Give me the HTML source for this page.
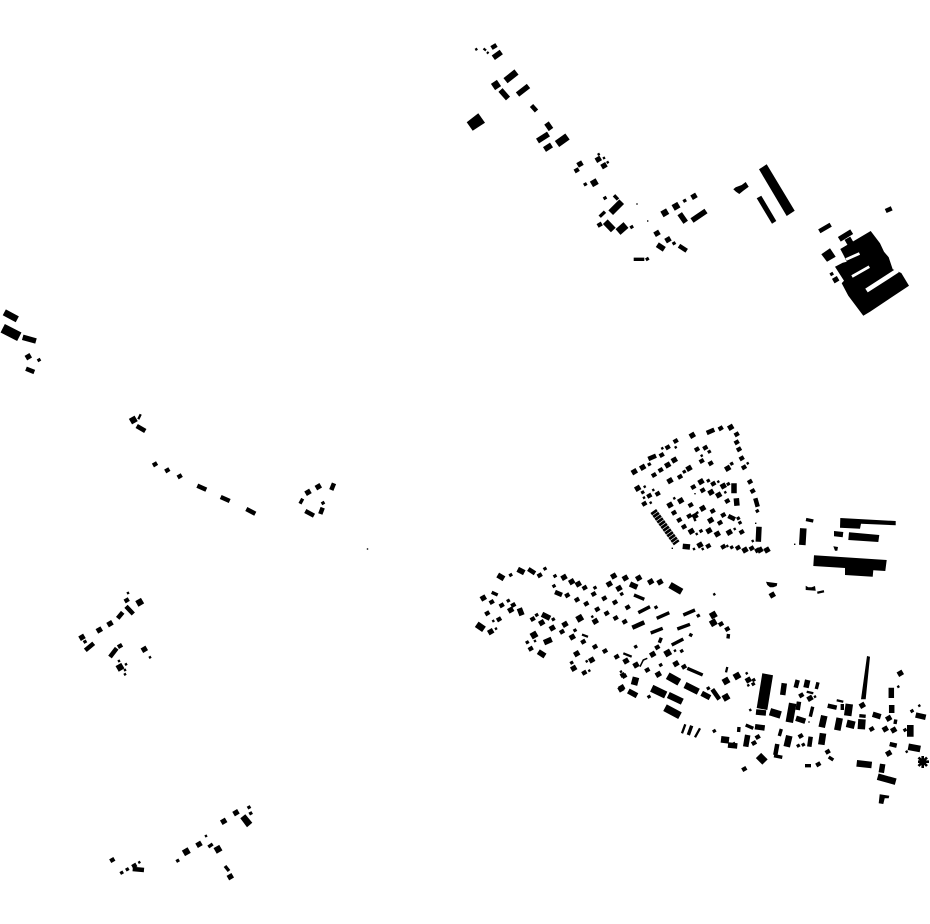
<!DOCTYPE html>
<html><head><meta charset="utf-8"><title>Figure-ground map</title>
<style>html,body{margin:0;padding:0;background:#fff}svg{display:block}</style></head>
<body>
<svg xmlns="http://www.w3.org/2000/svg" width="930" height="924" viewBox="0 0 930 924">
<defs>
<marker id="s1" markerUnits="userSpaceOnUse" markerWidth="4" markerHeight="4" refX="2" refY="2" overflow="visible"><rect x="1.3" y="1.3" width="1.4" height="1.4"/></marker>
<marker id="s2" markerUnits="userSpaceOnUse" markerWidth="6" markerHeight="6" refX="3" refY="3" overflow="visible"><rect x="1.8" y="1.8" width="2.4" height="2.4" transform="rotate(-30 3 3)"/></marker>
<marker id="s3" markerUnits="userSpaceOnUse" markerWidth="8" markerHeight="8" refX="4" refY="4" overflow="visible"><rect x="2.3" y="2.4" width="3.4" height="3.2" transform="rotate(-30 4 4)"/></marker>
<marker id="s4" markerUnits="userSpaceOnUse" markerWidth="10" markerHeight="10" refX="5" refY="5" overflow="visible"><rect x="2.6" y="2.9" width="4.8" height="4.2" transform="rotate(-30 5 5)"/></marker>
<marker id="s5" markerUnits="userSpaceOnUse" markerWidth="12" markerHeight="12" refX="6" refY="6" overflow="visible"><rect x="3.2" y="3.4" width="5.6" height="5.2" transform="rotate(-30 6 6)"/></marker>
<marker id="s6" markerUnits="userSpaceOnUse" markerWidth="14" markerHeight="14" refX="7" refY="7" overflow="visible"><rect x="3.7" y="3.8" width="6.6" height="6.4" transform="rotate(-30 7 7)"/></marker>
</defs>
<rect width="930" height="924" fill="#fff"/>

<g fill="none" stroke="none">
<path marker-start="url(#s1)" marker-mid="url(#s1)" marker-end="url(#s1)" d="M637 204 647.7 221 672.3 548.3 695 493.7 755.7 523.3 794.7 544.3 809 722 367.5 549"/>
<path marker-start="url(#s2)" marker-mid="url(#s2)" marker-end="url(#s2)" d="M476.3 49.3 598.7 154.3 604 158 607.7 162.3 675.7 447.3 662.3 448.3 747.7 463.3 701.7 455.7 644.7 486.7 653.3 490 644 497.7 650.7 502.7 718.3 481.7 725.3 492.3 674.3 498.3 696.7 534 697.3 512.7 695 520 734.7 529 694 549 702.7 549 727.3 546 752.7 541 493.3 621 496 628.7 592.3 616.7 535 641 586.7 661.3 589.3 670.7 714.3 594.3 675 650.7 621 671.7 746.7 673.3 752.7 684 748.3 685.3 750.3 710 815 696.7 898.3 686.7 919.3 705.7 906.7 751.7 128 593 150 657.3 119 661 126 664.3 125 670 125 674.3 206 836 139.3 862.3 734 743.3"/>
<path marker-start="url(#s3)" marker-mid="url(#s3)" marker-end="url(#s3)" d="M585.3 184.3 605 198 631.7 227 647.3 259 674 243.3 684.7 200.7 831.7 274 649.3 464.3 731.7 463.7 709.3 451.7 642.7 492.3 708.3 480.7 728.3 484 731.7 547.3 757.3 511 738.3 518.3 740 522.7 701 531 684.3 471.7 510.7 575 545 568.7 555 576 595 587.7 554 586 621.7 594 508.3 600.7 536.7 615 553.3 619.3 575 630.3 656 607.3 698.3 615.7 635.7 646.7 681.7 651 660.7 665 527.3 642.3 571.7 662.7 649 696.7 708.3 688.3 714.3 731 753.3 684 753.7 680 905 730 912 711 85 641.7 177.7 860.7 121.7 872.7 127.3 869.3 39 360 323 503 249 807.3 250.7 813.3 798.3 745.7 803.3 744.7"/>
<path marker-start="url(#s4)" marker-mid="url(#s4)" marker-end="url(#s4)" d="M599.7 224.7 576.7 170.3 661.7 455 667.7 447.3 675.7 441 720.7 428.3 736.7 434.3 736.7 442.3 739 449.3 741.7 458.3 744 467.3 697 449.3 705.3 447.7 701.7 461 710.7 463.3 654 475 660.7 470 680 476.7 649.3 495.7 657.7 493.7 644.3 503.7 693.3 487 713.3 483.7 702.7 490.3 727.3 501 750 481.7 752.7 491 690.7 505 712.7 511 723.3 515 674 512.7 679.3 520 684 526.7 689.3 516 720 522.7 741.7 532 708.3 546 723.3 546.7 738 547.7 751.7 548.3 757.3 550.3 539.7 575.3 584.7 587.7 593.7 594 567.3 595.3 577 599.7 586.3 603.7 604.3 598.3 615 602.3 597.3 609.3 606.7 613.3 615.7 618 624.7 621.7 627.7 607.3 491.7 602 501.7 605.3 513.3 605 487.3 613.3 499 619.3 532.7 619 562 631.7 583.3 641.7 595 646.7 605 651 616.7 656.7 530.7 648.7 584.3 672.7 622.7 675 721 624 727.3 629 657.3 647.3 684 666.7 647.3 670 624.3 676 871.7 729 801.3 695.3 757.7 737 754 743 800.7 736 744.3 769 818.3 764.3 827.7 751.7 126.7 600.3 120 646 155 464.3 167.3 470.3 179.7 476.3 112.3 860 134.3 865.7"/>
<path marker-start="url(#s5)" marker-mid="url(#s5)" marker-end="url(#s5)" d="M580 164 598.3 159.3 604 165.7 657 233.3 668 239.7 694 196.3 835.7 279.7 772.3 595 634.3 471.7 642.7 467.3 692.3 435.3 730.7 427.3 727.7 468.3 667.7 465 674.3 460 670 480.7 689 468.3 637.7 488.3 701 481.7 723.3 486 711 492.3 718.7 495 670 505 680.7 500.7 702.7 508.3 691.3 531.3 695 516 710.7 520.3 709 530.7 717.3 534 729.3 532.3 700 545 745 550 767 550 760 550 564 577.3 571.7 581.7 578.3 584 613.7 576 625.3 578 609.3 584 619 588.3 483.3 598 510.7 610 490.7 631.7 541.7 622.7 552.3 628 565 624.3 572.3 637 595.3 621.3 626 661 576.7 653.7 591.7 660 573.7 668.3 621.7 687.7 638.7 578 650.7 581.7 660 582 652.7 654.3 676 663.7 636 665 658.3 674.3 621 689 748.3 680 810 698.3 862.3 705.3 885.3 729 893.7 730 888.7 718.3 900.3 673.3 888.7 753.3 144.3 649.3 110 623.7 99.3 630 82 637.3 308 492.3 318.3 486.7 28.3 356.7 223.7 821.3 199 844.3 236 812.7 230.3 876.7"/>
<path marker-start="url(#s6)" marker-mid="url(#s6)" marker-end="url(#s6)" d="M594.3 182.7 676 206.3 664.8 212.8 849 241 579.7 618.3 534 635 667.7 653 726 681 737 676 726 697.3 713.3 615 713.3 622.7 139.7 602.3 133.3 420 120 667.3 218 849.3 186.3 851.7"/>
</g>

<g fill="none" stroke="#000">
<path stroke-width="1.5" d="M640 666.7 643.3 660 647.3 658.3"/>
<path stroke-width="2.3" d="M483.5 48.5 486 50.5M487 52 488.5 53.5M138.3 419.3 140.7 414.3M623.3 653.3 631.7 656.7M682 733.3 685.3 724.3M695 737.3 700 728.3M817.3 592.7 824 591.3M726 672.4 727.3 667M836.7 700.3 843.3 701.7M806.7 691.7 813.3 693.3M582 634.6 588 636.8"/>
<path stroke-width="3.4" d="M614 195.3 618 199.5M599.7 216.7 605 211.7M633.7 259.3 644.3 259.3M491.7 592.3 497.7 595M634 595 644.3 599.3M638.3 612.7 650 606.7M656.7 618.3 669.3 612.7M683.3 615 695 610M650.7 633 662.7 628.3M659.3 642.7 661.3 637.7M677.3 629 690 624.3M690 636.5 691.5 633.5M671.7 645 683.3 639M687.3 668.3 702.7 675M728 638.5 728.5 634M688.3 735 691.7 725.7M818 682.3 816.3 689M812.7 706.7 810.3 716.7M859.3 715.7 865.7 716.3M842.3 704 842.3 710M895.8 719.5 895 724M781.3 729 779.3 736M774 755.7 782.3 757.3M805 765.7 811 765.7M828.7 757 833.3 760M745.7 725 753.3 728.3M300 503.7 302.7 498.7M208.3 847 212.7 844M225 866 229 871M739 727 738.6 732M806 519.5 813.3 521"/>
<path stroke-width="4.5" d="M491.5 48 496.5 45M531.5 105.5 536.5 111M819.3 231.3 830.7 224.7M885.7 211 891.7 208.3M679 245.7 686.7 250.7M706.7 433 714.3 429.7M648.3 459 656 455.7M728.3 516 735 519.3M755.3 498.3 757.7 506.7M528.3 569 535 573.3M555 592 562 595M632.3 627.7 644.3 622.3M117.7 618.3 122.7 612.3M126 606.3 133.3 614M85.3 650.3 93.7 643.3M110 657 116.7 648.3M26 368.7 34.3 372M136.7 426 145.3 431M197.3 485.7 206.3 489.7M220.7 497 229.7 501M246.3 509 255.3 513.7M334 483.3 331.3 490M322.7 507.7 320.3 514M305.3 511 314 515.7M132.7 869 144 870M797.7 680 795.7 687.7M799 701.7 797.7 710M827.7 705.7 836.7 707.7M889.7 744 896.7 745.7M777.3 744 775.3 755M810.7 736.7 809.3 746.7M712.3 689.3 719.3 699.3"/>
<path stroke-width="5.5" d="M493.3 57.7 501.3 52M500.5 90 508 98.5M517.5 94.5 528.5 86M546.5 123 551 129.5M537.5 141 548.5 134M544.5 149.5 551.5 145M657.3 244.7 664.3 249.3M679.7 213.7 685.7 222.3M692 220.5 706 211M839.3 239.3 851.7 231.7M682.7 546.3 690 547M734 483.3 734 493.3M736.3 498.3 737 505.7M759 526.7 758.3 541.7M497.7 575 504 578.7M517.7 569.3 524.3 572.7M519.3 608.3 522 615.3M542 614.3 550 618.3M544 642.7 551.7 639.3M538.3 651.7 545 656M628.3 691 637 695.7M701.7 693.3 710 697.7M784.3 683.3 782.7 695M807.7 680 806 687.7M796 718.3 805.3 721.3M756 712 766 713M755 726.7 764.7 728M747.7 735 745.7 746.7M728 745 737.3 746M872.7 714.3 880.7 716.7M891.3 687.7 891.3 698M891.7 705 891.7 713M915.7 715 925.7 717.3M882.7 764 881.3 772.7M22.7 337.3 36 341M630 584 637.3 587.3"/>
<path stroke-width="6.6" d="M505.5 80.7 516.5 72M610.7 212.7 621.7 201.7M605.3 221.7 613.3 230M476.7 624.3 484 629.3M670 585 681.7 591.7M636 677.3 634 685M668.3 695 682.3 701.7M685 685 698.3 691.7M721 739.3 729 740.3M789.3 735.7 786.7 746.7M824.3 715.7 821.7 727.3M823 733.3 821.3 744.7M839.7 718 837.3 730.3M908.3 746.7 920.3 749M910.3 725 910.3 736.7M856.7 763.3 871.7 765M877.7 776.7 895.7 781.7M4.3 312.3 17.3 319.3M803.3 528.3 802.3 545"/>
<path stroke-width="7.5" d="M493 87 499 83M557 144 567.5 136.5M618 232 626 225M651.7 688.3 665.7 695M665 707.7 680 715.7M667.7 675.7 679.3 682.3M770 711.7 780.7 715M792.7 703.3 789.3 722.3M849.3 704 847.7 715.7M846.7 723.3 854.7 725.3M862 719.3 861.3 729.3M758.5 755.5 765 762"/>
<path stroke-width="9.5" d="M2.7 328.3 19.3 336.7"/>
<path stroke-width="7" stroke-dasharray="2.8 .6" d="M653.3 511 676.7 543.3"/>
<path stroke-width="2.6" d="M918 761.7 929 761.7M922.7 756 922.7 768M918.5 757.5 927 766M918.5 766 927 757.5"/>
<path stroke-width="5" d="M920 761.7 926 761.7"/>
</g>

<g fill="#000">
<polygon points="466.7,122.3 478.3,113.3 485,122.7 472.7,130.7"/>
<polygon points="759,169.3 766.7,164.3 794.7,210.7 786.7,216"/>
<polygon points="756.7,198.3 761.3,195.7 776.3,221 772,223.7"/>
<polygon points="733.3,189.3 735.7,187.3 741.7,185 745.7,182 748.7,186.7 743.3,190.7 739.3,194 736,191.7"/>
<polygon points="821.3,254.3 830,248.3 835.7,256.7 827,261.7"/>
<polygon points="840.3,249 870.7,231 880,243.3 884,251.7 888.7,257.3 892.7,269.3 901.3,273 909,285.7 870,311.7 863.3,315.7 848.3,295.7 841.7,283.3 844,280.7 835,266.7 842.7,262.7 846.7,261.7 844,256"/>
<polygon points="840.3,518 895.7,521 895.7,525.3 861,523.7 860,528.7 840,527.7"/>
<polygon points="834,531 843.3,532 842.7,537.3 834,536.3"/>
<polygon points="849,532.3 879.3,535 878.3,542 848.3,540"/>
<polygon points="833.3,546.3 838,547 837.3,550.7 835,550.7"/>
<polygon points="814,555.3 886.7,560 885.3,571 873.3,570.3 872.7,576.7 845,575 845,568 813.3,566"/>
<polygon points="766,581.7 777.3,583.3 776.7,586 773.3,587.3 770,587.3 767.3,585"/>
<polygon points="805.7,585.7 808.3,587.3 811.7,587.3 815,586 815.7,590.7 805.7,590"/>
<polygon points="762.3,673.3 773,675.3 767.3,710 756.7,708"/>
<polygon points="867,656 870,656.7 865.7,699.3 861,699.3"/>
<polygon points="879.7,794.3 889.3,795.7 888.7,798.3 884.7,798.3 883.3,804 878.7,803.3"/>
<polygon points="240.3,818.3 245.3,814.3 252.3,822.7 247,827.3"/>
</g>

<g fill="none" stroke="#fff">
<path stroke-width="2.8" d="M846 259.5 859.5 253.5M852 276.5 869.3 266.7"/>
<path stroke-width="4.6" d="M866.5 290.5 897.5 270.5"/>
</g>
</svg>
</body></html>
